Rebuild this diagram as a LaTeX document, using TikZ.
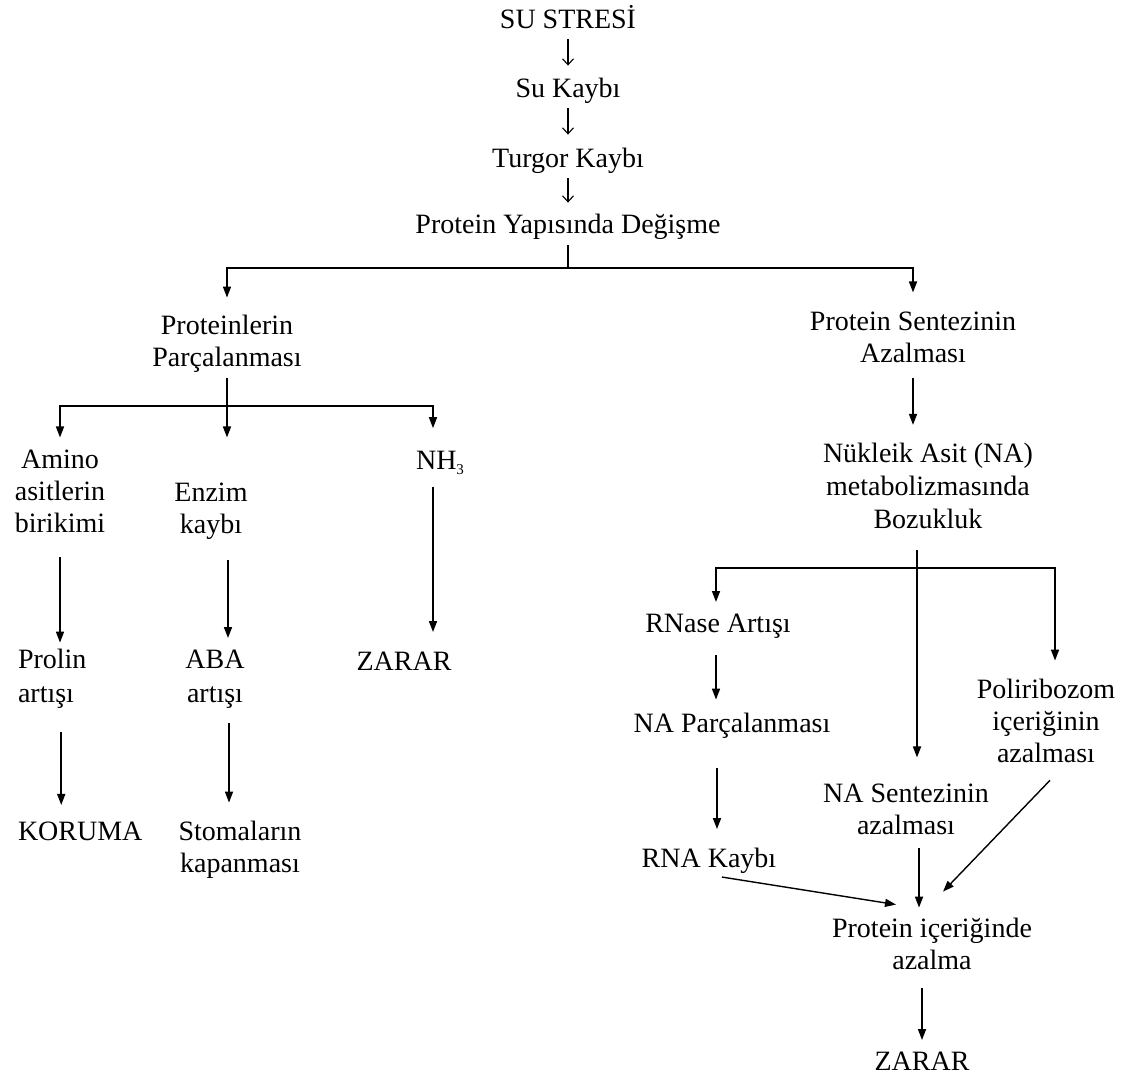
\documentclass[tikz,border=0pt]{standalone}
\usepackage{fontspec}
\setmainfont{Liberation Serif}
\usetikzlibrary{arrows.meta}
\begin{document}
\begin{tikzpicture}[x=1pt,y=1pt,
  lbl/.style={inner sep=0pt, outer sep=0pt, align=center, anchor=base, font=\fontsize{28}{32}\selectfont},
  arr/.style={line width=1.6pt, -{Triangle[length=11pt,width=8pt]}},
  smallarr/.style={line width=1.1pt, -{Straight Barb[length=6pt,width=11pt]}},
  bar/.style={line width=1.4pt}]
\fill[white] (0,0) rectangle (1123,-1080);
\useasboundingbox (0,0) rectangle (1123,-1080);

% nodes (base anchor = baseline of the last line)
\node[lbl] (su) at (568,-28) {SU STRESİ};
\node[lbl] (sk) at (568,-97) {Su Kaybı};
\node[lbl] (tk) at (568,-167) {Turgor Kaybı};
\node[lbl] (pyd) at (568,-233) {Protein Yapısında Değişme};
\node[lbl] (pp) at (227,-366) {Proteinlerin\\Parçalanması};
\node[lbl] (ps) at (913,-362) {Protein Sentezinin\\Azalması};
\node[lbl] (ami) at (60,-532) {Amino\\asitlerin\\birikimi};
\node[lbl] (enz) at (211,-533) {Enzim\\kaybı};
\node[lbl] (nh3) at (440,-469) {NH\raisebox{-5pt}{\fontsize{15}{15}\selectfont 3}};
\node[lbl, align=left, anchor=base west] (pro) at (18,-702) {Prolin\\[2pt]artışı};
\node[lbl] (aba) at (215,-702) {ABA\\[2pt]artışı};
\node[lbl] (zar1) at (404,-670) {ZARAR};
\node[lbl, anchor=base west] (kor) at (18,-840) {KORUMA};
\node[lbl] (sto) at (240,-872) {Stomaların\\kapanması};
\node[lbl] (nuk) at (928,-528) {Nükleik Asit (NA)\\[1pt]metabolizmasında\\[1pt]Bozukluk};
\node[lbl] (rna) at (718,-632) {RNase Artışı};
\node[lbl] (nap) at (732,-732) {NA Parçalanması};
\node[lbl] (rnk) at (709,-867) {RNA Kaybı};
\node[lbl] (pol) at (1046,-762) {Poliribozom\\içeriğinin\\azalması};
\node[lbl] (nas) at (906,-834) {NA Sentezinin\\azalması};
\node[lbl] (pia) at (932,-969) {Protein içeriğinde\\azalma};
\node[lbl] (zar2) at (922,-1070) {ZARAR};

% junctions
\coordinate (j1) at (568,-268);
\coordinate (j2) at (227,-406);
\coordinate (j3) at (917,-568);

% top chain
\draw[smallarr, shorten <=11pt, shorten >=12pt] (su.south) -- (sk.north);
\draw[smallarr, shorten <=5pt, shorten >=13pt] (sk.south) -- (tk.north);
\draw[smallarr, shorten <=5pt, shorten >=11pt] (tk.south) -- (pyd.north);

% first split
\draw[bar, shorten <=6pt] (pyd.south) -- (j1);
\draw[arr, shorten >=17pt] (j1) -| (pp.north);
\draw[arr, shorten >=19pt] (j1) -| (ps.north);

% left branch
\draw[arr, shorten <=6pt, shorten >=45pt] (pp.south) -- (pp.south |- enz.north);
\draw[arr, shorten >=12pt] (j2) -| (ami.north);
\draw[arr, shorten >=22.5pt] (j2) -| ([xshift=-7pt]nh3.north);
\draw[arr, shorten <=25pt, shorten >=6pt] (ami.south) -- (ami.south |- pro.north);
\draw[arr, shorten <=21pt, shorten >=11.5pt] ([xshift=17pt]enz.south) -- ([xshift=17pt]enz.south |- aba.north);
\draw[arr, shorten <=12.5pt, shorten >=19.5pt] ([xshift=-7pt]nh3.south) -- ([xshift=-7pt]nh3.south |- zar1.north);
\draw[arr, shorten <=24pt, shorten >=16.5pt] ([xshift=9pt]pro.south) -- ([xshift=9pt]pro.south |- kor.north);
\draw[arr, shorten <=15pt, shorten >=18pt] ([xshift=14pt]aba.south) -- ([xshift=14pt]aba.south |- sto.north);

% right branch
\draw[arr, shorten <=16pt, shorten >=17.7pt] (ps.south) -- (ps.south |- nuk.north);
\draw[arr, shorten <=22pt, shorten >=26pt] (j3 |- nuk.south) -- (j3 |- nas.north);
\draw[arr, shorten >=11.5pt] (j3) -| ([xshift=-2pt]rna.north);
\draw[arr, shorten >=18pt] (j3) -| ([xshift=9pt]pol.north);
\draw[arr, shorten <=17pt, shorten >=13pt] ([xshift=-2pt]rna.south) -- ([xshift=-2pt]rna.south |- nap.north);
\draw[arr, shorten <=30pt, shorten >=18.5pt] ([xshift=-15pt]nap.south) -- ([xshift=-15pt]nap.south |- rnk.north);
\draw[arr, shorten <=14pt, shorten >=10pt] ([xshift=13pt]nas.south) -- ([xshift=13pt]nas.south |- pia.north);
\draw[arr, line width=1.4pt] ([xshift=4pt,yshift=-18pt]pol.south) -- ([xshift=11pt,yshift=26pt]pia.north);
\draw[arr, line width=1.4pt] ([xshift=13pt,yshift=-4pt]rnk.south) -- ([xshift=-36pt,yshift=13pt]pia.north);
\draw[arr, shorten <=19pt, shorten >=11.5pt] (zar2.north |- pia.south) -- (zar2.north);
\end{tikzpicture}
\end{document}
